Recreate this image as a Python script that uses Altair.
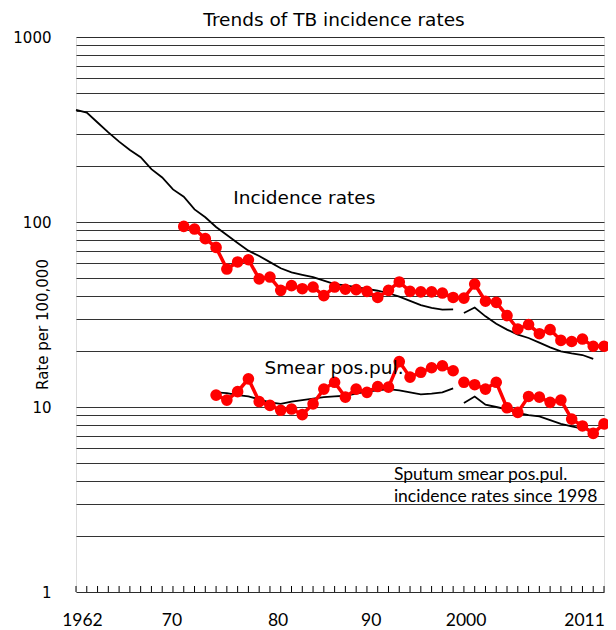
import altair as alt
import pandas as pd

# ---- data ----
inc_years_a = list(range(1962, 1998))
inc_a = [404, 390, 345, 305, 272, 245, 224, 193, 174, 150, 137, 117, 106, 94, 85, 77,
         70, 65.5, 60.7, 56.2, 53.4, 51.8, 50.4, 48.2, 46.2, 45.5, 44.5, 43.5, 42.5,
         41.2, 39.5, 37.5, 35.5, 34.3, 33.6, 33.7]
inc_years_b = list(range(1998, 2011))
inc_b = [32.2, 34.5, 30.9, 28.2, 26.2, 24.6, 23.6, 22.3, 21.0, 20.0, 19.5, 19.1, 18.2]

sm_years_a = list(range(1975, 1998))
sm_a = [12.0, 11.9, 11.6, 11.4, 11.0, 10.6, 10.4, 10.7, 10.9, 11.1, 11.3, 11.4, 11.5,
        11.8, 12.1, 12.3, 12.5, 12.3, 12.0, 11.7, 11.8, 12.0, 12.6]
sm_years_b = list(range(1998, 2011))
sm_b = [10.5, 11.4, 10.3, 10.0, 9.7, 9.3, 9.05, 8.9, 8.5, 8.1, 7.85, 7.65, 7.5]

red_inc_years = list(range(1972, 2012))
red_inc = [94.7, 91.6, 81.3, 72.9, 55.7, 60.8, 62.5, 49.3, 50.4, 42.7, 45.3, 43.6, 44.5,
           40.0, 44.5, 43.3, 43.1, 42.2, 39.1, 42.7, 47.4, 42.2, 41.9, 41.9, 41.3, 39.1,
           38.8, 46.2, 37.3, 36.8, 31.2, 26.4, 27.9, 24.9, 26.2, 22.9, 22.6, 23.3, 21.3, 21.3]
red_sm_years_a = list(range(1975, 1998))
red_sm_a = [11.6, 10.9, 12.1, 14.2, 10.7, 10.2, 9.6, 9.75, 9.1, 10.4, 12.5, 13.6, 11.3,
            12.5, 12.0, 12.9, 12.8, 17.6, 14.5, 15.4, 16.3, 16.7, 15.7]
red_sm_years_b = list(range(1998, 2012))
red_sm_b = [13.6, 13.2, 12.5, 13.6, 9.9, 9.35, 11.4, 11.3, 10.6, 10.9, 8.6, 7.9, 7.2, 8.1]

tick_years = list(range(1962, 2012))
x_labels = ["1962", "70", "80", "90", "2000", "2011"]
x_label_at = [1962.6, 1970.9, 1980.75, 1989.4, 1998.2, 2009.2]

grid_values = [m * 10 ** k for k in range(3) for m in range(1, 10)] + [1000]

notes = ["Incidence rates", "Smear pos.pul."]
note_x = [1976.6, 1979.5]
note_y = [135, 16.3]
note2 = ["Sputum smear pos.pul.", "incidence rates since 1998"]
note2_x = [1991.5, 1991.5]
note2_y = [4.3, 3.25]

W, H = 528, 555

def seg(years, vals, name):
    return pd.DataFrame({"year": years, "rate": vals, "seg": name})

black = pd.concat([seg(inc_years_a, inc_a, "ia"), seg(inc_years_b, inc_b, "ib"),
                   seg(sm_years_a, sm_a, "sa"), seg(sm_years_b, sm_b, "sb")])
red = pd.concat([seg(red_inc_years, red_inc, "ri"),
                 seg(red_sm_years_a, red_sm_a, "rsa"), seg(red_sm_years_b, red_sm_b, "rsb")])

xs = alt.Scale(domain=[1962, 2011], nice=False, zero=False)
ys = alt.Scale(type="log", domain=[1, 1000], nice=False)

yaxis = alt.Axis(
    values=grid_values, format="d",
    labelExpr="(datum.value == 1 || datum.value == 10 || datum.value == 100 || datum.value == 1000) ? datum.label : ''",
    grid=True, gridColor="#000000", gridWidth=1, gridOpacity=0.8,
    ticks=False, domain=False, labelPadding=25, labelFontSize=15, labelFont="DejaVu Sans",
    labelColor="#000000", title="Rate per 100,000", titleFont="DejaVu Sans", titleFontSize=15,
    titleFontWeight="normal", titleColor="#000000", titleX=-34, titleY=287, titleAngle=270,
    titleAlign="center", titleBaseline="middle",
)

base_x = alt.X("year:Q", scale=xs, axis=None)

black_lines = alt.Chart(black).mark_line(color="#000000", strokeWidth=1.8).encode(
    x=base_x, y=alt.Y("rate:Q", scale=ys, axis=yaxis), detail="seg:N")

red_lines = alt.Chart(red).mark_line(color="#ff0000", strokeWidth=3.5).encode(
    x=base_x, y=alt.Y("rate:Q", scale=ys), detail="seg:N")

red_pts = alt.Chart(red).mark_circle(color="#ff0000", size=135, opacity=1).encode(
    x=base_x, y=alt.Y("rate:Q", scale=ys))

ticks = alt.Chart(pd.DataFrame({"year": tick_years})).mark_rule(color="#000000", strokeWidth=1).encode(
    x=base_x, y=alt.value(H), y2=alt.value(H - 6))

xlab = alt.Chart(pd.DataFrame({"year": x_label_at, "t": x_labels})).mark_text(
    font="Lato", fontSize=17.5, color="#000000", baseline="middle", align="center").encode(
    x=base_x, y=alt.value(H + 29), text="t:N")

ann = alt.Chart(pd.DataFrame({"year": note_x, "rate": note_y, "t": notes})).mark_text(
    font="DejaVu Sans", fontSize=18.5, color="#000000", align="left", baseline="middle").encode(
    x=base_x, y=alt.Y("rate:Q", scale=ys), text="t:N")

ann2 = alt.Chart(pd.DataFrame({"year": note2_x, "rate": note2_y, "t": note2})).mark_text(
    font="Lato", fontSize=17.5, color="#000000", align="left", baseline="middle").encode(
    x=base_x, y=alt.Y("rate:Q", scale=ys), text="t:N")

chart = alt.layer(black_lines, red_lines, red_pts, ticks, xlab, ann, ann2).properties(
    width=W, height=H,
    title=alt.TitleParams("Trends of TB incidence rates", font="DejaVu Sans", fontSize=18.5,
                          fontWeight="normal", color="#000000", anchor="middle", dx=-6, offset=1),
    autosize=alt.AutoSizeParams(type="none"),
    padding={"left": 68, "top": 29, "right": 4, "bottom": 38},
).configure_view(stroke="#000000", strokeWidth=1.2).configure(background="white")

chart.save("out.html", embed_options={"renderer": "svg", "actions": False})
